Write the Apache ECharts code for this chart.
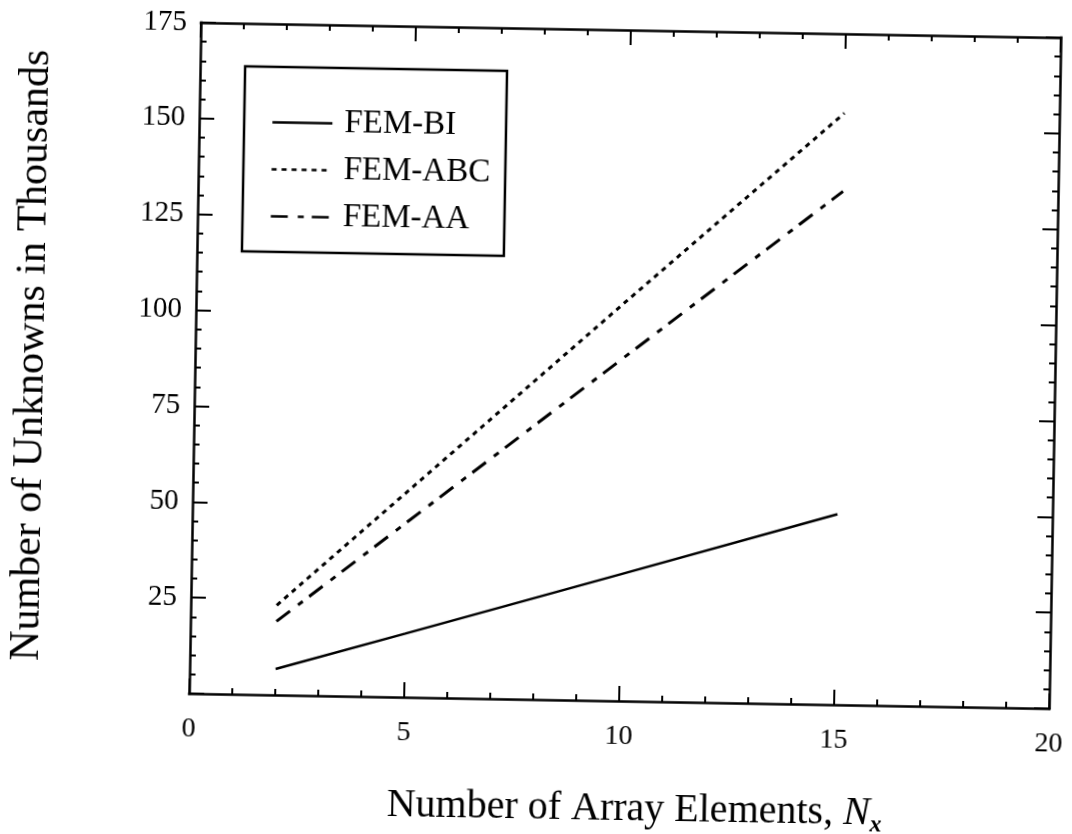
<!DOCTYPE html>
<html><head><meta charset="utf-8">
<script src="https://cdn.jsdelivr.net/npm/echarts@6/dist/echarts.min.js"></script>
<style>
html,body{margin:0;padding:0;background:#fff;overflow:hidden}
#chart{width:1072px;height:834px;transform:rotate(1deg);transform-origin:625px 365px;background:#fff}
</style>
</head><body><div id="chart"></div>
<script>
// Data
const elements = [2, 5, 10, 15];
const femBI  = [6.8, 16.6, 33.1, 49.7];
const femABC = [23.4, 53.7, 104.2, 154.3];
const femAA  = [19.2, 45.7, 89.8, 133.9];
const seriesNames = ['FEM-BI', 'FEM-ABC', 'FEM-AA'];
const xTickValues = [0, 5, 10, 15, 20];
const yTickValues = [0, 25, 50, 75, 100, 125, 150, 175];

const FONT = 'Liberation Serif';
const BLACK = '#000';

const chart = echarts.init(document.getElementById('chart'), null, {renderer: 'canvas'});

function pairs(xs, ys) { return xs.map((x, i) => [x, ys[i]]); }

const xMin = xTickValues[0], xMax = xTickValues[xTickValues.length - 1], xInt = xTickValues[1] - xTickValues[0];
const yMin = yTickValues[0], yMax = yTickValues[yTickValues.length - 1], yInt = yTickValues[1] - yTickValues[0];

const axisLine = {show: true, onZero: false, lineStyle: {color: BLACK, width: 2.5, cap: 'square'}};
const axisTick = {show: true, inside: true, length: 15, lineStyle: {color: BLACK, width: 2}};
const minorTick = {show: true, splitNumber: 5, length: 6, lineStyle: {color: BLACK, width: 2}};

const option = {
  backgroundColor: '#fff',
  animation: false,
  grid: {left: 195, top: 30, right: 17, bottom: 133, outerBoundsMode: 'none', containLabel: false},
  legend: {
    orient: 'vertical', left: 240, top: 73,
    data: seriesNames,
    itemWidth: 60, itemHeight: 20, itemGap: 14,
    padding: [39, 15, 19, 27],
    borderColor: BLACK, borderWidth: 2.5,
    backgroundColor: '#fff',
    itemStyle: {opacity: 0},
    lineStyle: {width: 2.5},
    textStyle: {fontFamily: FONT, fontSize: 33, color: BLACK, padding: [0, 0, 0, 7]}
  },
  xAxis: [{
    type: 'value', min: xMin, max: xMax, interval: xInt, position: 'bottom',
    axisLine, axisTick, minorTick,
    splitLine: {show: false}, minorSplitLine: {show: false},
    axisLabel: {margin: 22, fontFamily: FONT, fontSize: 28, color: BLACK},
    name: '{a|Number of Array Elements, }{n|N}{s|x}',
    nameLocation: 'middle', nameGap: 84,
    nameTextStyle: {
      padding: [0, 0, 0, 34],
      rich: {
        a: {fontFamily: FONT, fontSize: 40, color: BLACK, lineHeight: 48},
        n: {fontFamily: FONT, fontSize: 40, fontStyle: 'italic', color: BLACK, lineHeight: 48},
        s: {fontFamily: FONT, fontSize: 24, fontStyle: 'italic', fontWeight: 'bold', color: BLACK, lineHeight: 24, verticalAlign: 'bottom'}
      }
    }
  }, {
    type: 'value', min: xMin, max: xMax, interval: xInt, position: 'top',
    axisLine, axisTick, minorTick,
    splitLine: {show: false}, minorSplitLine: {show: false},
    axisLabel: {show: false}
  }],
  yAxis: [{
    type: 'value', min: yMin, max: yMax, interval: yInt, position: 'left',
    axisLine, axisTick, minorTick,
    splitLine: {show: false}, minorSplitLine: {show: false},
    axisLabel: {margin: 14, fontFamily: FONT, fontSize: 29, color: BLACK,
      formatter: v => (v === 0 ? '' : String(v))},
    name: 'Number of Unknowns in Thousands',
    nameLocation: 'middle', nameGap: 142,
    nameTextStyle: {fontFamily: FONT, fontSize: 42, color: BLACK}
  }, {
    type: 'value', min: yMin, max: yMax, interval: yInt, position: 'right',
    axisLine, axisTick, minorTick,
    splitLine: {show: false}, minorSplitLine: {show: false},
    axisLabel: {show: false}
  }],
  series: [{
    name: seriesNames[0], type: 'line', xAxisIndex: 0, yAxisIndex: 0,
    data: pairs(elements, femBI), symbol: 'none', showSymbol: false,
    lineStyle: {color: BLACK, width: 2.5, type: 'solid'}, itemStyle: {color: BLACK}
  }, {
    name: seriesNames[1], type: 'line', xAxisIndex: 0, yAxisIndex: 0,
    data: pairs(elements, femABC), symbol: 'none', showSymbol: false,
    lineStyle: {color: BLACK, width: 3, type: [5, 5]}, itemStyle: {color: BLACK}
  }, {
    name: seriesNames[2], type: 'line', xAxisIndex: 0, yAxisIndex: 0,
    data: pairs(elements, femAA), symbol: 'none', showSymbol: false,
    lineStyle: {color: BLACK, width: 3, type: [17, 10, 6, 8]}, itemStyle: {color: BLACK}
  }]
};
chart.setOption(option);
</script>
</body></html>
